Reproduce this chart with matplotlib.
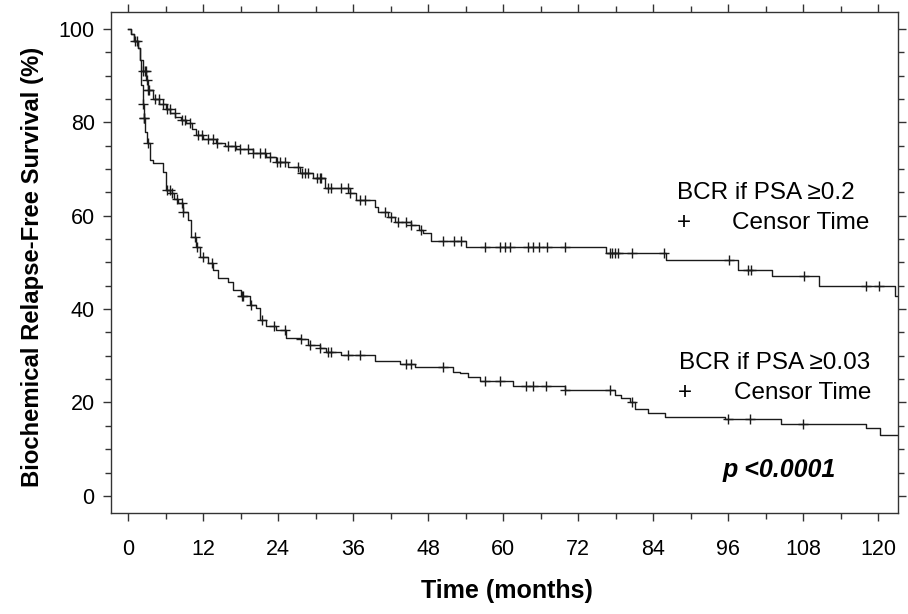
import numpy as np
import matplotlib
matplotlib.use("Agg")
import matplotlib.pyplot as plt
from matplotlib.ticker import MultipleLocator

plt.rcParams['font.family'] = ['Liberation Sans', 'DejaVu Sans']

# Kaplan-Meier step curves (months, % relapse-free)
psa02_t = [0, 0.5, 1.0, 1.5, 1.9, 2.4, 2.9, 3.2, 4.0, 5.0, 6.0, 6.7, 7.5, 8.5,
           9.3, 10.2, 10.9, 12.0, 14.1, 15.5, 17.3, 20.0, 22.0, 23.7, 25.5,
           27.5, 29.6, 31.5, 35.5, 36.5, 39.5, 40.0, 41.5, 42.7, 45.3, 46.5,
           47.2, 48.5, 54.1, 76.4, 86.0, 97.6, 103.0, 110.5, 122.7, 123.1]
psa02_s = [100, 99, 97.5, 96, 93.4, 91, 89, 86.9, 84.9, 84, 82.8, 82, 81.2,
           80.5, 79.8, 78.5, 77.3, 76.4, 75.5, 74.9, 74.3, 73.4, 72.5, 71.6,
           70.5, 69.1, 68.0, 65.9, 64.8, 63.4, 61.9, 60.9, 59.8, 58.7, 58.0,
           57.0, 56.3, 54.5, 53.2, 52.0, 50.5, 48.4, 47.0, 45.0, 42.8, 42.8]
psa02_censor = [1.07, 1.33, 2.4, 2.67, 2.83, 2.93, 3.2, 3.36, 4.27, 4.96, 5.6,
                6.13, 6.67, 7.47, 8.53, 9.07, 9.87, 11.2, 11.73, 12.8, 13.6,
                14.13, 16.0, 17.07, 17.87, 19.2, 20.0, 21.07, 21.87, 22.67,
                23.73, 24.27, 25.07, 27.2, 27.73, 28.3, 28.8, 30.13, 30.7,
                30.9, 32.0, 32.5, 34.1, 35.2, 35.5, 37.1, 37.9, 41.1, 42.1,
                43.2, 44.5, 45.3, 46.9, 50.4, 52.1, 53.3, 57.1, 59.4, 60.3,
                61.1, 64.0, 64.8, 65.7, 67.0, 69.9, 77.0, 77.4, 77.9, 78.4,
                80.6, 85.7, 96.1, 99.1, 99.7, 108.1, 118.0, 120.1]

psa003_t = [0, 0.5, 1.0, 1.5, 1.9, 2.0, 2.3, 2.5, 2.7, 3.0, 3.5, 4.0, 5.6, 6.1,
            6.7, 7.3, 8.0, 8.8, 9.6, 10.1, 10.9, 11.5, 12.8, 13.6, 14.4, 16.0,
            16.8, 18.1, 19.5, 20.5, 21.1, 22.1, 23.7, 25.3, 27.7, 28.8, 30.7,
            31.7, 34.1, 39.5, 43.5, 45.9, 52.0, 53.0, 54.4, 56.3, 61.6, 69.9,
            77.9, 78.9, 80.3, 81.1, 83.2, 85.9, 95.5, 104.5, 118.1, 120.3,
            123.1]
psa003_s = [100, 99, 97.5, 96, 93.4, 88, 84, 81, 78, 75.5, 72, 71.2, 69.4,
            65.5, 64.8, 63.5, 62.7, 60.9, 59.1, 55.5, 53.4, 51.2, 49.8, 48.4,
            46.6, 45.9, 44.1, 42.7, 40.9, 40.2, 37.7, 36.4, 35.5, 33.8, 33.5,
            32.3, 31.6, 30.9, 30.2, 28.8, 28.3, 27.6, 26.6, 26.3, 25.5, 24.5,
            23.6, 22.7, 21.6, 20.9, 20.2, 18.6, 17.8, 17.0, 16.4, 15.3, 14.5,
            13.1, 13.1]
psa003_censor = [2.4, 2.51, 2.6, 3.2, 6.13, 6.67, 6.93, 7.73, 8.53, 8.8,
                 10.67, 10.93, 12.0, 13.33, 18.13, 18.4, 19.7, 21.4, 23.3,
                 25.1, 27.7, 29.1, 30.7, 32.0, 32.5, 35.2, 37.1, 44.5, 45.3,
                 50.4, 57.1, 59.4, 63.7, 64.8, 66.9, 69.9, 77.1, 80.6, 96.0,
                 99.5, 108.0]


def step_value(times, surv, at):
    times = np.asarray(times)
    surv = np.asarray(surv)
    idx = np.searchsorted(times, at, side='right') - 1
    return surv[np.clip(idx, 0, len(surv) - 1)]


ink = '#1a1a1a'
fig = plt.figure(figsize=(9.08, 6.14), dpi=100)
ax = fig.add_axes([0.1219, 0.165, 0.8668, 0.816])

for t, s, c in [(psa02_t, psa02_s, psa02_censor),
                (psa003_t, psa003_s, psa003_censor)]:
    ax.step(t, s, where='post', color=ink, lw=1.0)
    ax.plot(c, step_value(t, s, c), '+', color=ink, ms=7.5, mew=1.0)

ax.set_xlim(-2.8, 123.1)
ax.set_ylim(-3.6, 103.7)
ax.xaxis.set_major_locator(MultipleLocator(12))
ax.xaxis.set_minor_locator(MultipleLocator(6))
ax.yaxis.set_major_locator(MultipleLocator(20))
ax.yaxis.set_minor_locator(MultipleLocator(5))
ax.tick_params(which='both', direction='out', top=True, right=True,
               color='#333333', width=1.0)
ax.tick_params(axis='x', which='major', length=6, pad=13, labelsize=15.5)
ax.tick_params(axis='x', which='minor', length=4)
ax.tick_params(axis='y', which='major', length=5.5, pad=6, labelsize=15.5)
ax.tick_params(axis='y', which='minor', length=4)
for sp in ax.spines.values():
    sp.set_color('#333333')
    sp.set_linewidth(1.0)

fig.text(33 / 908, 1 - 267 / 614, 'Biochemical Relapse-Free Survival (%)',
         rotation=90, ha='center', va='center', fontsize=17.2,
         fontweight='bold')
fig.text(507 / 908, 1 - 591 / 614, 'Time (months)', ha='center',
         va='center', fontsize=18, fontweight='bold')

ax.text(0.719, 0.6375, 'BCR if PSA \u22650.2', transform=ax.transAxes,
        ha='left', va='center', fontsize=17.5)
ax.text(0.7285, 0.5776, '+', transform=ax.transAxes, ha='center',
        va='center', fontsize=17.5)
ax.text(0.964, 0.5776, 'Censor Time', transform=ax.transAxes, ha='right',
        va='center', fontsize=17.5)
ax.text(0.7225, 0.298, 'BCR if PSA \u22650.03', transform=ax.transAxes,
        ha='left', va='center', fontsize=17.5)
ax.text(0.7297, 0.238, '+', transform=ax.transAxes, ha='center',
        va='center', fontsize=17.5)
ax.text(0.967, 0.238, 'Censor Time', transform=ax.transAxes, ha='right',
        va='center', fontsize=17.5)
ax.text(0.778, 0.085, 'p <0.0001', transform=ax.transAxes, ha='left',
        va='center', fontsize=18, fontweight='bold', style='italic')

fig.savefig('out.png', dpi=100)
